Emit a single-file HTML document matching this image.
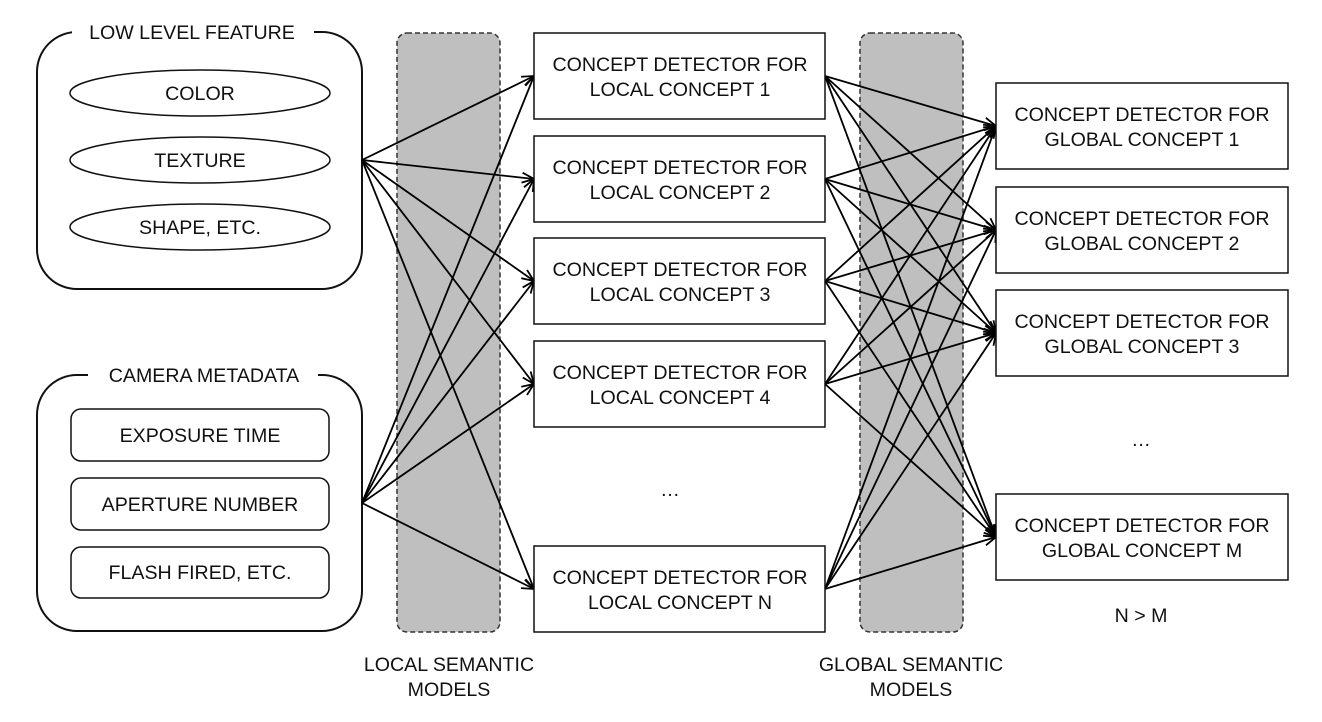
<!DOCTYPE html>
<html><head><meta charset="utf-8"><style>
html,body{margin:0;padding:0;background:#fff;}
svg{display:block;}
text{font-family:"Liberation Sans",Arial,sans-serif;font-size:19.6px;fill:#111;text-anchor:middle;}
</style></head><body>
<svg id="s" width="1322" height="722" viewBox="0 0 1322 722" xmlns="http://www.w3.org/2000/svg">
<defs>
<marker id="a" markerWidth="14" markerHeight="12" refX="13" refY="6" orient="auto" markerUnits="userSpaceOnUse">
<path d="M1,1 L13,6 L1,11" fill="none" stroke="#000" stroke-width="1.8"/>
</marker>
</defs>
<rect x="397" y="33" width="103" height="599" rx="10" fill="#bfbfbf" stroke="#333" stroke-width="1.5" stroke-dasharray="5,3"/>
<rect x="860" y="33" width="103" height="599" rx="10" fill="#bfbfbf" stroke="#333" stroke-width="1.5" stroke-dasharray="5,3"/>

<rect x="37" y="32" width="325" height="257" rx="40" fill="#fff" stroke="#111" stroke-width="2"/>
<rect x="72" y="20" width="242" height="24" fill="#fff"/>
<text x="192" y="39">LOW LEVEL FEATURE</text>
<ellipse cx="200" cy="93" rx="130" ry="23" fill="#fff" stroke="#111" stroke-width="1.5"/>
<text x="200" y="100">COLOR</text>
<ellipse cx="200" cy="160" rx="130" ry="23" fill="#fff" stroke="#111" stroke-width="1.5"/>
<text x="200" y="167">TEXTURE</text>
<ellipse cx="200" cy="227" rx="130" ry="23" fill="#fff" stroke="#111" stroke-width="1.5"/>
<text x="200" y="234">SHAPE, ETC.</text>

<rect x="37" y="375" width="325" height="256" rx="40" fill="#fff" stroke="#111" stroke-width="2"/>
<rect x="88" y="363" width="230" height="24" fill="#fff"/>
<text x="204" y="382">CAMERA METADATA</text>
<rect x="71" y="409" width="258" height="52" rx="10" fill="#fff" stroke="#111" stroke-width="1.5"/>
<text x="200" y="442">EXPOSURE TIME</text>
<rect x="71" y="478" width="258" height="52" rx="10" fill="#fff" stroke="#111" stroke-width="1.5"/>
<text x="200" y="511">APERTURE NUMBER</text>
<rect x="71" y="547" width="258" height="51" rx="10" fill="#fff" stroke="#111" stroke-width="1.5"/>
<text x="200" y="579">FLASH FIRED, ETC.</text>

<g id="lines" stroke="#000" stroke-width="1.8" fill="none"></g>
<g id="boxes"></g>

<text x="670" y="496">…</text>
<text x="1141" y="446">…</text>
<text x="1141" y="622">N &gt; M</text>
<text x="449" y="671">LOCAL SEMANTIC</text>
<text x="449" y="696">MODELS</text>
<text x="911" y="671">GLOBAL SEMANTIC</text>
<text x="911" y="696">MODELS</text>
</svg>
<script>
var NS="http://www.w3.org/2000/svg";
var L=document.getElementById("lines"),B=document.getElementById("boxes");
function el(p,t,a,tx){var e=document.createElementNS(NS,t);for(var k in a)e.setAttribute(k,a[k]);if(tx)e.textContent=tx;p.appendChild(e);return e;}
var loc=[[33,"1"],[136,"2"],[238,"3"],[341,"4"],[546,"N"]];
var glob=[[83,"1"],[187,"2"],[290,"3"],[494,"M"]];
var src=[[362,160],[362,503]];
src.forEach(function(s){loc.forEach(function(l){el(L,"line",{x1:s[0],y1:s[1],x2:534,y2:l[0]+43,"marker-end":"url(#a)"});});});
loc.forEach(function(l){glob.forEach(function(g){el(L,"line",{x1:825,y1:l[0]+43,x2:996,y2:g[0]+43,"marker-end":"url(#a)"});});});
loc.forEach(function(l){el(B,"rect",{x:534,y:l[0],width:291,height:86,fill:"#fff",stroke:"#111","stroke-width":1.5});
el(B,"text",{x:680,y:l[0]+38},"CONCEPT DETECTOR FOR");el(B,"text",{x:680,y:l[0]+63},"LOCAL CONCEPT "+l[1]);});
glob.forEach(function(g){el(B,"rect",{x:996,y:g[0],width:292,height:86,fill:"#fff",stroke:"#111","stroke-width":1.5});
el(B,"text",{x:1142,y:g[0]+38},"CONCEPT DETECTOR FOR");el(B,"text",{x:1142,y:g[0]+63},"GLOBAL CONCEPT "+g[1]);});
</script>
</body></html>
